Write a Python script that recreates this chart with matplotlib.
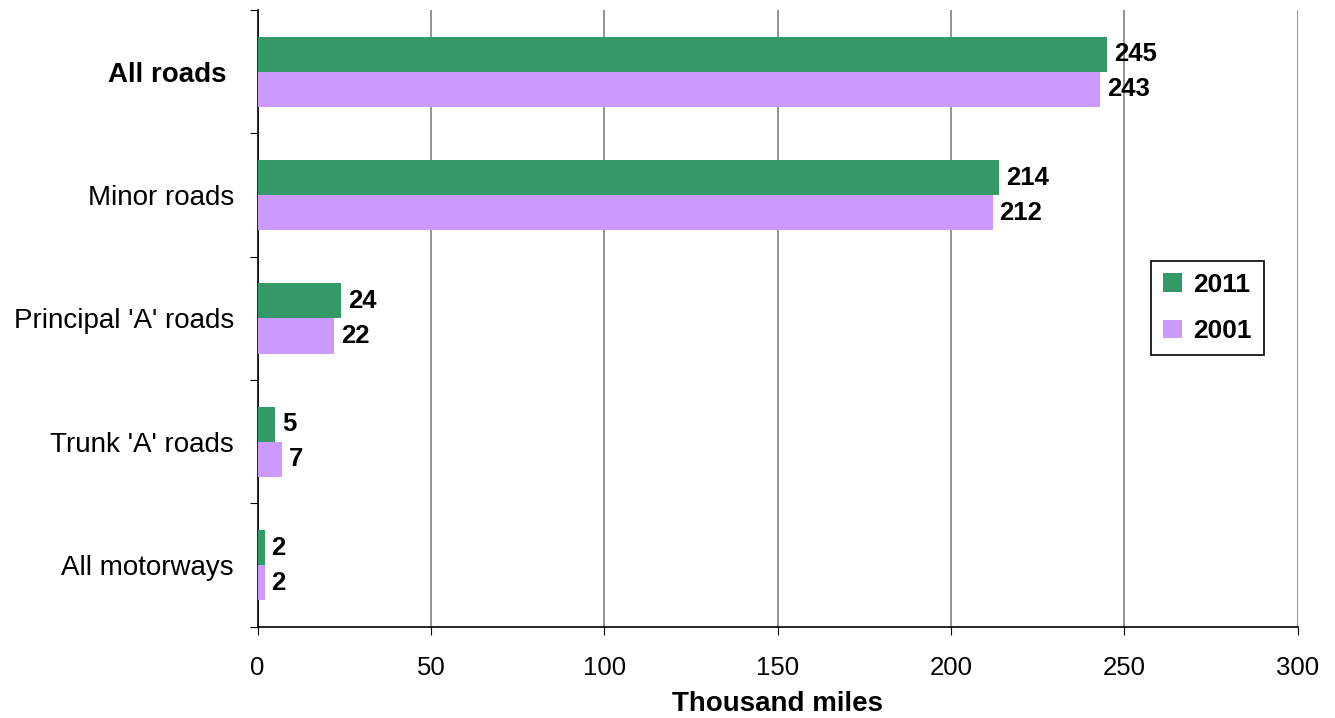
import numpy as np
import matplotlib.pyplot as plt

plt.rcParams['font.family'] = ['Liberation Sans', 'DejaVu Sans']

categories = ['All motorways', "Trunk 'A' roads", "Principal 'A' roads", 'Minor roads', 'All roads ']
vals_2011 = [2, 5, 24, 214, 245]
vals_2001 = [2, 7, 22, 212, 243]

my_dpi = 100
fig = plt.figure(figsize=(1335/my_dpi, 718/my_dpi), dpi=my_dpi)
ax = fig.add_axes([0.193, 0.127, 0.779, 0.859])

y = np.arange(len(categories))
h = 0.285
b1 = ax.barh(y + h/2, vals_2011, height=h, color='#339966', label='2011', zorder=3)
b2 = ax.barh(y - h/2, vals_2001, height=h, color='#CC99FF', label='2001', zorder=3)

for bars, vals in ((b1, vals_2011), (b2, vals_2001)):
    for bar, v in zip(bars, vals):
        ax.annotate(str(v), (v, bar.get_y() + bar.get_height()/2), xytext=(5, 0),
                    textcoords='offset points', va='center', ha='left',
                    fontsize=18.5, fontweight='bold')

ax.set_xlim(0, 300)
ax.set_ylim(-0.5, len(categories) - 0.5)
ax.set_xticks(np.arange(0, 301, 50))
ax.tick_params(axis='x', labelsize=18.5, length=6, direction='out', pad=15)
ax.xaxis.grid(True, color='#808080', linewidth=1.2, zorder=0)

# category labels between boundary ticks
ax.set_yticks(np.arange(-0.5, len(categories), 1.0))
ax.set_yticklabels([])
ax.set_yticks(y, minor=True)
ax.set_yticklabels(categories, minor=True, fontsize=20)
ax.tick_params(axis='y', which='minor', length=0, pad=17)
ax.tick_params(axis='y', which='major', length=6, direction='out')
ax.get_yticklabels(minor=True)[-1].set_fontweight('bold')

for s in ('top', 'right'):
    ax.spines[s].set_visible(False)
ax.spines['left'].set_linewidth(1.2)
ax.spines['bottom'].set_linewidth(1.2)

ax.set_xlabel('Thousand miles', fontsize=20, fontweight='bold', labelpad=8)

leg = ax.legend(loc='center', bbox_to_anchor=(0.9135, 0.517),
                prop={'weight': 'bold', 'size': 19}, fancybox=False,
                edgecolor='black', framealpha=1, handlelength=0.7, handleheight=0.7,
                handletextpad=0.45, borderpad=0.45, labelspacing=0.85)
leg.get_frame().set_linewidth(1.2)

plt.savefig('out.png', dpi=my_dpi)
